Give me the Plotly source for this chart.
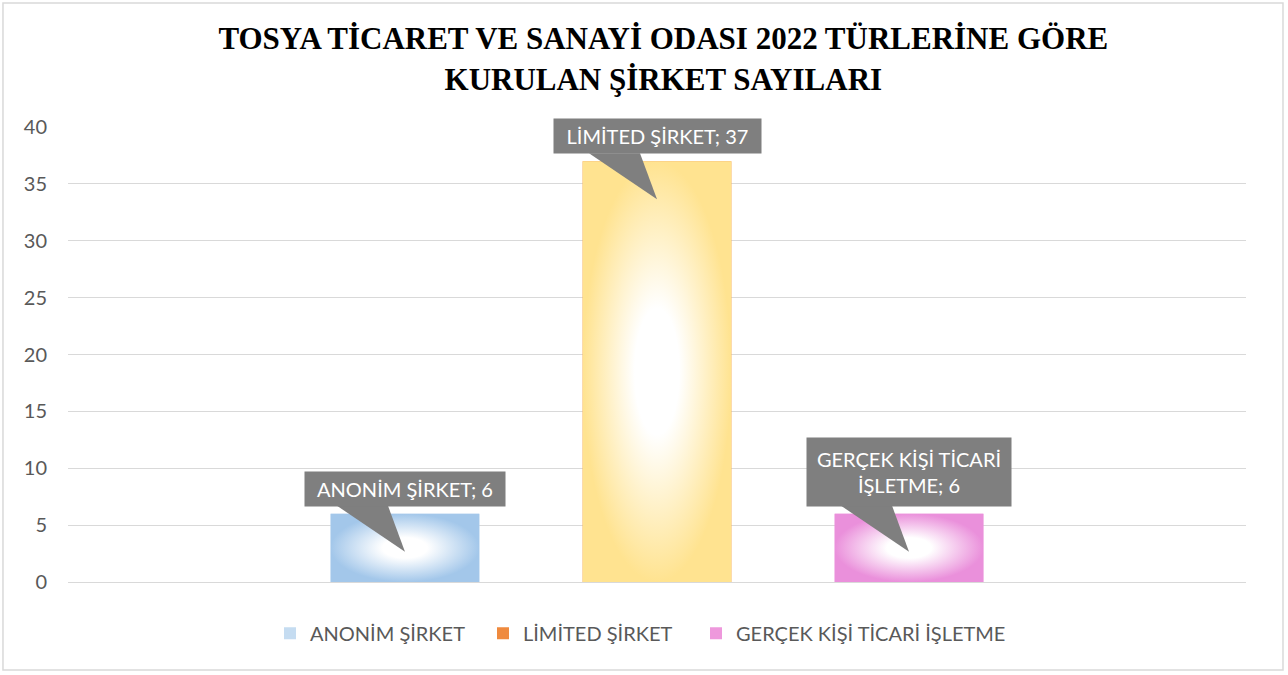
import plotly.graph_objects as go

# ---- data ----
series_names = ["ANONİM ŞİRKET", "LİMİTED ŞİRKET", "GERÇEK KİŞİ TİCARİ İŞLETME"]
series_values = [6, 37, 6]
label_texts = ["ANONİM ŞİRKET; 6", "LİMİTED ŞİRKET; 37", "GERÇEK KİŞİ TİCARİ<br>İŞLETME; 6"]
y_ticks = [0, 5, 10, 15, 20, 25, 30, 35, 40]
title_text = "TOSYA TİCARET VE SANAYİ ODASI 2022 TÜRLERİNE GÖRE<br>KURULAN ŞİRKET SAYILARI"

# ---- styles ----
edge_colors = ["#a3c7ea", "#ffe390", "#ea90db"]
legend_colors = ["#c5dcf1", "#ef8a3e", "#ee98dc"]
legend_widths = [168, 168, None]
label_box_w = [190, 197, 194]
label_box_h = [24, 24, 58]
bar_width = 0.59
positions = list(range(len(series_values)))

fig = go.Figure()

for i, (name, val) in enumerate(zip(series_names, series_values)):
    x0, x1 = positions[i] - bar_width / 2, positions[i] + bar_width / 2
    # underlying bar (legend entry)
    fig.add_trace(go.Bar(
        x=[positions[i]], y=[val], width=bar_width, name=name,
        marker=dict(color=legend_colors[i], line=dict(width=0)),
        hoverinfo="skip", showlegend=True, legendwidth=legend_widths[i],
    ))
    # radial gradient overlay on the bar
    fig.add_trace(go.Scatter(
        x=[x0, x1, x1, x0, x0], y=[0, 0, val, val, 0],
        mode="lines", fill="toself", line=dict(width=0),
        fillgradient=dict(type="radial",
                          colorscale=[[0, "#ffffff"], [0.3, "#ffffff"], [1, edge_colors[i]]]),
        showlegend=False, hoverinfo="skip",
    ))

annotations = []
shapes = []
for i, val in enumerate(series_values):
    annotations.append(dict(
        x=positions[i], y=val, xref="x", yref="y", text=label_texts[i],
        showarrow=False, yanchor="bottom", yshift=7,
        width=label_box_w[i], height=label_box_h[i], valign="middle",
        bgcolor="#7f7f7f", borderpad=5,
        font=dict(family="Lato", size=20, color="#ffffff"),
    ))
    shapes.append(dict(
        type="path", xref="x", yref="y", xsizemode="pixel", ysizemode="pixel",
        xanchor=positions[i], yanchor=val,
        path="M -68,8 L -17,8 L 0,-38 Z",
        fillcolor="#7f7f7f", line=dict(width=0), layer="above",
    ))

# outer chart border
shapes.append(dict(type="rect", xref="paper", yref="paper",
                   x0=-0.0552, x1=1.0314, y0=-0.1934, y1=1.2725,
                   line=dict(color="#d9d9d9", width=1.5), layer="below"))

fig.update_layout(
    width=1288, height=675,
    margin=dict(l=68, r=42, t=127, b=93),
    paper_bgcolor="#ffffff", plot_bgcolor="#ffffff",
    title=dict(text=title_text, x=0.515, xanchor="center", y=0.927, yanchor="middle",
               font=dict(family="Liberation Serif", size=31, color="#000000", weight="bold")),
    barmode="overlay",
    xaxis=dict(range=[-1.337, 3.337], showticklabels=False, showgrid=False,
               zeroline=False, ticks="", fixedrange=True),
    yaxis=dict(range=[0, 40], tickvals=y_ticks, showgrid=True, gridcolor="#d9d9d9",
               gridwidth=1, zeroline=True, zerolinecolor="#d9d9d9", zerolinewidth=1,
               ticks="", ticklabelstandoff=20,
               tickfont=dict(family="Lato", size=20, color="#595959")),
    legend=dict(orientation="h", x=(283 - 68 - 13) / 1178, xanchor="left", y=-0.07, yanchor="top",
                font=dict(family="Lato", size=20, color="#595959"),
                itemwidth=30, tracegroupgap=0),
    annotations=annotations, shapes=shapes,
    showlegend=True,
)

fig.write_html("out.html", post_script="document.body.style.margin='0px';",
               config={"displayModeBar": False})
